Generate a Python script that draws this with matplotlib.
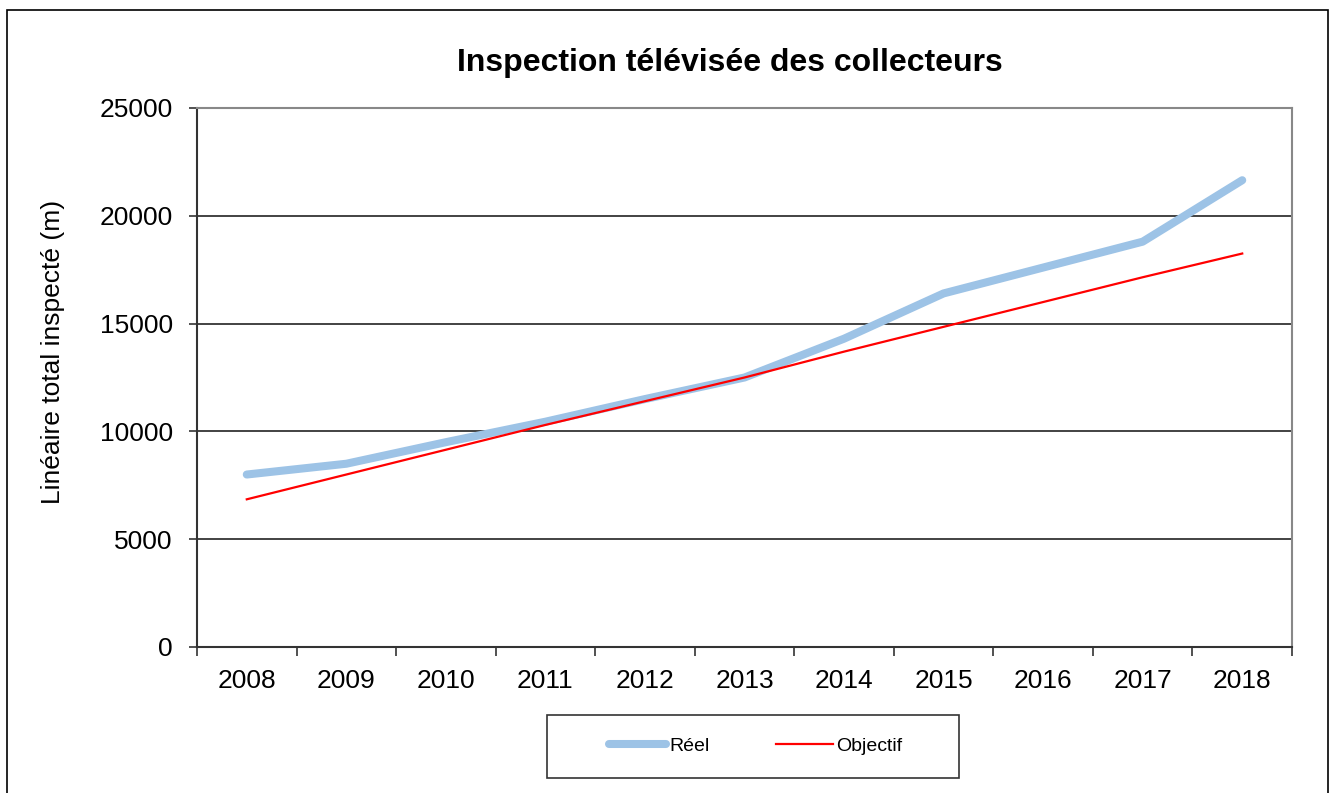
import matplotlib
matplotlib.use("Agg")
import matplotlib.pyplot as plt
from matplotlib.patches import Rectangle

years = ["2008", "2009", "2010", "2011", "2012", "2013", "2014", "2015", "2016", "2017", "2018"]
reel = [8000, 8500, 9500, 10450, 11500, 12500, 14300, 16400, 17600, 18800, 21650]
objectif = [6850, 8000, 9150, 10300, 11400, 12500, 13700, 14850, 16000, 17150, 18250]
y_ticks = [0, 5000, 10000, 15000, 20000, 25000]

plt.rcParams['font.family'] = ['Liberation Sans', 'DejaVu Sans']

W, H = 1337, 793
fig = plt.figure(figsize=(W / 100, H / 100), dpi=100)
fig.patch.set_facecolor('white')

# outer frame
fig.add_artist(Rectangle((7 / W, -0.01), (1328 - 7) / W, 1 - 10 / H + 0.01,
                         transform=fig.transFigure, fill=False, edgecolor='black', lw=1.2))

left, right, top, bottom = 197, 1292, 108, 647
ax = fig.add_axes([left / W, 1 - bottom / H, (right - left) / W, (bottom - top) / H])

x = list(range(len(years)))
ax.plot(x, reel, color='#9DC3E6', lw=5.8, solid_capstyle='round', solid_joinstyle='round', label='Réel', zorder=3)
ax.plot(x, objectif, color='#FF0000', lw=1.6, label='Objectif', zorder=4)

ax.set_xlim(-0.5, len(years) - 0.5)
ax.set_ylim(0, 25000)
ax.set_yticks(y_ticks)
ax.set_yticklabels([str(v) for v in y_ticks], fontsize=19)
ax.set_xticks(x)
ax.set_xticklabels(years, fontsize=19)
ax.set_xticks([i - 0.5 for i in range(len(years) + 1)], minor=True)
ax.tick_params(axis='x', which='major', length=0, pad=16)
ax.tick_params(axis='x', which='minor', length=6.5, width=1.2, color='#333333', direction='out')
ax.tick_params(axis='y', which='major', length=6, width=1.2, color='#333333', direction='out', pad=11.5)

ax.grid(axis='y', color='#222222', lw=1.2)
ax.set_axisbelow(True)
for s in ['left', 'bottom']:
    ax.spines[s].set_color('#333333')
    ax.spines[s].set_linewidth(1.5)
for s in ['top', 'right']:
    ax.spines[s].set_color('#888888')
    ax.spines[s].set_linewidth(1.5)

fig.text(53 / W, 1 - 352 / H, 'Linéaire total inspecté (m)', rotation=90, ha='center', va='center',
         fontsize=19)
fig.text(730 / W, 1 - 63 / H, 'Inspection télévisée des collecteurs', ha='center', va='center',
         fontsize=23, fontweight='bold')

# legend box
fig.add_artist(Rectangle((547 / W, 1 - 778 / H), (959 - 547) / W, (778 - 715) / H,
                         transform=fig.transFigure, fill=False, edgecolor='#333333', lw=1.2))
leg = fig.legend(loc='center', bbox_to_anchor=(756 / W, 1 - 746 / H), ncol=2, fontsize=14,
                 frameon=False, handlelength=2.9, columnspacing=3.4, handletextpad=0.2,
                 borderpad=0, borderaxespad=0)

fig.savefig('out.png', dpi=100, facecolor='white')
